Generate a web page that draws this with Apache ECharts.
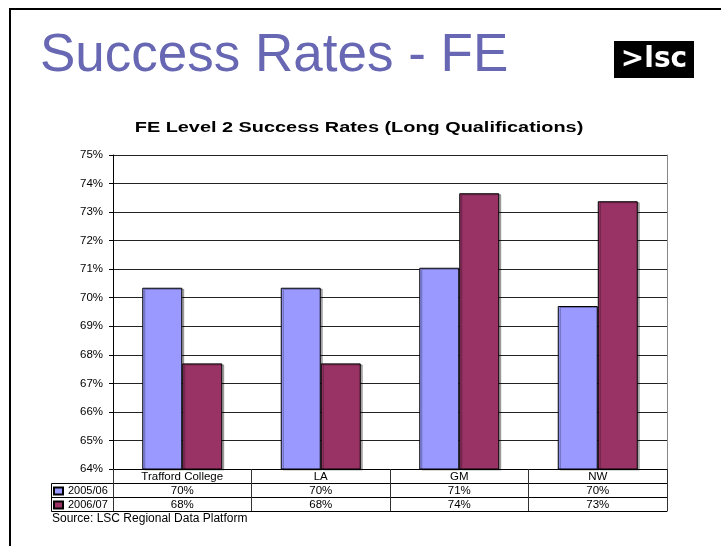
<!DOCTYPE html>
<html>
<head>
<meta charset="utf-8">
<script src="https://cdn.jsdelivr.net/npm/echarts@6/dist/echarts.min.js"></script>
<style>
html, body { margin: 0; padding: 0; background: #fff; }
#chart { width: 721px; height: 546px; }
</style>
</head>
<body>
<div id="chart"></div>
<script>
// data
var categories = ['Trafford College', 'LA', 'GM', 'NW'];
var seriesNames = ['2005/06', '2006/07'];
var rate0506 = [70.35, 70.35, 71.05, 69.71];
var rate0607 = [67.70, 67.70, 73.66, 73.38];
var yMin = 64, yMax = 75, yStep = 1;

var font = 'Arial, "Liberation Sans", sans-serif';
var blue = '#9999ff';
var plum = '#993366';
var small = 11.5;

var myChart = echarts.init(document.getElementById('chart'), null, { renderer: 'canvas' });

function pct(list) {
	return function(v, i) {
		return Math.round(list[i]) + '%';
	};
}

var barStyle = function(c) {
	return {
		color: c,
		borderColor: '#000',
		borderWidth: 1,
		shadowColor: 'rgba(0,0,0,0.3)',
		shadowOffsetX: 2,
		shadowOffsetY: 1
	};
};

// the data table rows are extra category axes stacked under the plot
function tableRow(offset, values) {
	return {
		type: 'category',
		position: 'bottom',
		data: categories,
		offset: offset,
		axisLine: { lineStyle: { color: '#000' } },
		axisTick: { show: false },
		axisLabel: values ? { interval: 0, margin: 2, fontFamily: font, fontSize: small, color: '#000', formatter: pct(values) } : { show: false }
	};
}

var option = {
	animation: false,
	backgroundColor: '#fff',
	legend: {
		orient: 'vertical',
		left: 53,
		top: 485,
		padding: 0,
		itemGap: 2,
		itemWidth: 9,
		itemHeight: 7,
		icon: 'rect',
		selectedMode: false,
		textStyle: { fontFamily: font, fontSize: 11, color: '#000', lineHeight: 12 },
		data: seriesNames
	},
	grid: { left: 113, right: 54, top: 155, bottom: 77 },
	xAxis: [{
		type: 'category',
		position: 'bottom',
		data: categories,
		axisLine: { lineStyle: { color: '#000', width: 1 } },
		axisTick: { show: true, length: 42, interval: 0, lineStyle: { color: '#333' } },
		axisLabel: { interval: 0, margin: 2, fontFamily: font, fontSize: small, color: '#000' }
	},
		tableRow(14, rate0506),
		tableRow(28, rate0607),
		tableRow(42, null)
	],
	yAxis: [{
		type: 'value',
		min: yMin,
		max: yMax,
		interval: yStep,
		axisLine: { show: true, lineStyle: { color: '#000' } },
		axisTick: { show: true, length: 4, lineStyle: { color: '#000' } },
		axisLabel: { margin: 10, fontFamily: font, fontSize: small, color: '#000', formatter: '{value}%' },
		splitLine: { lineStyle: { color: '#222', width: 1 } }
	}, {
		type: 'value',
		position: 'right',
		min: yMin,
		max: yMax,
		interval: yStep,
		axisLine: { show: true, lineStyle: { color: '#888' } },
		axisTick: { show: false },
		axisLabel: { show: false },
		splitLine: { show: false }
	}],
	series: [{
		name: seriesNames[0],
		type: 'bar',
		barWidth: 40,
		barGap: '0%',
		itemStyle: barStyle(blue),
		data: rate0506
	}, {
		name: seriesNames[1],
		type: 'bar',
		barWidth: 40,
		barGap: '0%',
		itemStyle: barStyle(plum),
		data: rate0607
	}],
	graphic: [
		// slide frame
		{ type: 'polyline', shape: { points: [[10, 546], [10, 9], [721, 9]] }, style: { stroke: '#000', lineWidth: 2, fill: null } },
		// slide title
		{ type: 'text', style: { text: 'Success Rates - FE', x: 40, y: 56, verticalAlign: 'middle', font: '53px Arial, "Liberation Sans", sans-serif', fill: '#6767b3' } },
		// logo
		{ type: 'rect', shape: { x: 614, y: 41, width: 80, height: 37 }, style: { fill: '#000' } },
		{ type: 'text', style: { text: '>lsc', x: 654, y: 60, align: 'center', verticalAlign: 'middle', font: 'bold 28px "DejaVu Sans", sans-serif', fill: '#fff' } },
		// chart title, stretched sideways like the pasted chart picture
		{ type: 'text', x: 359, y: 128, scaleX: 1.42, style: { text: 'FE Level 2 Success Rates (Long Qualifications)', x: 0, y: 0, align: 'center', verticalAlign: 'middle', font: 'bold 14px Arial, "Liberation Sans", sans-serif', fill: '#000' } },
		// legend column borders of the data table
		{ type: 'polyline', shape: { points: [[113, 483.5], [51.5, 483.5], [51.5, 511.5], [113, 511.5]] }, style: { stroke: '#000', lineWidth: 1, fill: null } },
		{ type: 'line', shape: { x1: 51.5, y1: 497.5, x2: 113, y2: 497.5 }, style: { stroke: '#000', lineWidth: 1 } },
		// source note
		{ type: 'text', style: { text: 'Source: LSC Regional Data Platform', x: 52, y: 519, verticalAlign: 'middle', font: '12px Arial, "Liberation Sans", sans-serif', fill: '#000' } }
	]
};

myChart.setOption(option);
</script>
</body>
</html>
